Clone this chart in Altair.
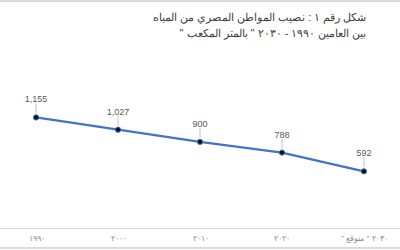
import altair as alt
import pandas as pd

RLM = "\u200f"
years = ["١٩٩٠", "٢٠٠٠", "٢٠١٠", "٢٠٢٠", "٢٠٣٠ \" متوقع \"" + RLM]
values = [1155, 1027, 900, 788, 592]
title_lines = [
    "شكل رقم ١ : نصيب المواطن المصري من المياه",
    "بين العامين ١٩٩٠ - ٢٠٣٠ \" بالمتر المكعب \"" + RLM,
]

df = pd.DataFrame({"year": years, "value": values})

x = alt.X("year:N", sort=years, title=None,
          scale=alt.Scale(type="point", padding=0.44),
          axis=alt.Axis(labelAngle=0, ticks=False, domainColor="#d9d9d9",
                        labelColor="#8c8c8c", labelFontSize=8, labelPadding=6,
                        labelFont="Liberation Sans", grid=False))
y = alt.Y("value:Q", title=None, scale=alt.Scale(domain=[0, 1400], nice=False),
          axis=None)

base = alt.Chart(df).encode(x=x, y=y)

line = base.mark_line(color="#4472C4", strokeWidth=2.25)
lead = base.mark_tick(orient="vertical", size=10, thickness=1, color="#a6a6a6", yOffset=-9)
pts = base.mark_circle(size=28, color="#111111", opacity=1, stroke="#4472C4", strokeWidth=1)
lbl = base.mark_text(dy=-18, fontSize=9, color="#595959", font="Liberation Sans").encode(
    text=alt.Text("value:Q", format=","))

frame_top = alt.Chart(df).mark_rule(color="#d9d9d9", strokeWidth=1).encode(
    x=alt.value(0), x2=alt.value(400), y=alt.value(-93))
frame_bot = alt.Chart(df).mark_rule(color="#d9d9d9", strokeWidth=1).encode(
    x=alt.value(0), x2=alt.value(400), y=alt.value(154))

chart = alt.layer(frame_top, frame_bot, line, lead, pts, lbl).properties(
    width=400, height=134,
    padding={"top": 94, "left": 0, "right": 0, "bottom": 22},
    autosize=alt.AutoSizeParams(type="none"),
    title=alt.TitleParams(text=title_lines, anchor="end", dx=-34, offset=-38,
                          fontSize=11, font="Liberation Sans", fontWeight="normal",
                          color="#404040", lineHeight=16),
).configure(background="white", view=alt.ViewConfig(strokeWidth=0, stroke="transparent"))

chart.save("out.html", embed_options={"renderer": "svg", "actions": False})
